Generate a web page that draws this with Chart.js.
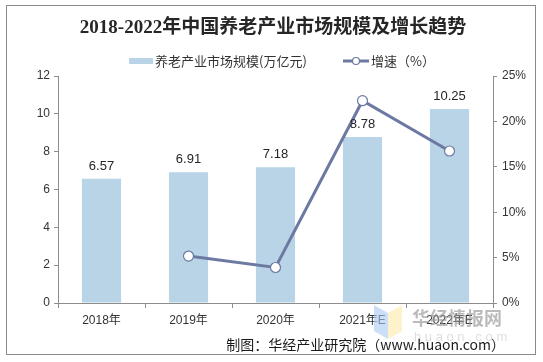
<!DOCTYPE html>
<html>
<head>
<meta charset="utf-8">
<script src="https://cdn.jsdelivr.net/npm/chart.js@4"></script>
<style>
  html, body { margin: 0; padding: 0; background: #fff; }
  #wrap { width: 543px; height: 362px; }
</style>
</head>
<body>
<div id="wrap"><canvas id="chart" width="543" height="362"></canvas></div>
<script>
// chart data
const years = ['2018年', '2019年', '2020年', '2021年E', '2022年E'];
const marketSize = [6.57, 6.91, 7.18, 8.78, 10.25];
const growthRate = [null, 5.17, 3.91, 22.28, 16.74];

const titleText = '2018-2022年中国养老产业市场规模及增长趋势';
const barLabel = '养老产业市场规模(万亿元)';
const lineLabel = '增速（%）';
const sourceText = '制图：华经产业研究院（www.huaon.com）';

const barColor = '#b8d4e6';
const lineColor = '#6c79a2';
const axisColor = '#8c8c8c';
const textColor = '#333';
const cjkSans = '"Noto Sans CJK SC", "Liberation Sans", sans-serif';
const mixedSans = '"Liberation Sans", "Noto Sans CJK SC", sans-serif';

// draws frame, title, legend, value labels and footer
const decorPlugin = {
  id: 'decor',
  beforeDraw(chart) {
    const ctx = chart.ctx;
    ctx.save();
    ctx.fillStyle = '#fff';
    ctx.fillRect(0, 0, chart.width, chart.height);
    ctx.restore();
  },
  afterDraw(chart) {
    const ctx = chart.ctx;
    ctx.save();

    // outer frame
    ctx.strokeStyle = '#8a8a8a';
    ctx.lineWidth = 1;
    ctx.strokeRect(6.5, 5.5, 529, 349);

    // title
    ctx.fillStyle = '#262626';
    ctx.font = 'bold 19px "Liberation Serif", "Noto Sans CJK SC", serif';
    ctx.textAlign = 'center';
    ctx.textBaseline = 'middle';
    ctx.fillText(titleText, 273, 28);

    // legend
    ctx.font = '13px ' + cjkSans;
    ctx.textAlign = 'left';
    ctx.fillStyle = barColor;
    ctx.fillRect(129, 58, 24, 6);
    ctx.fillStyle = textColor;
    ctx.fillText(barLabel, 155, 61);
    ctx.strokeStyle = lineColor;
    ctx.lineWidth = 3;
    ctx.beginPath();
    ctx.moveTo(343, 61);
    ctx.lineTo(369, 61);
    ctx.stroke();
    ctx.fillStyle = '#fff';
    ctx.lineWidth = 1.2;
    ctx.beginPath();
    ctx.arc(356, 61, 3.5, 0, Math.PI * 2);
    ctx.fill();
    ctx.stroke();
    ctx.fillStyle = textColor;
    ctx.fillText(lineLabel, 371, 61);

    // bar value labels
    const meta = chart.getDatasetMeta(1);
    ctx.font = '13px "Liberation Sans", Arial, sans-serif';
    ctx.textAlign = 'center';
    ctx.textBaseline = 'bottom';
    ctx.fillStyle = '#262626';
    meta.data.forEach((bar, i) => {
      ctx.fillText(marketSize[i].toFixed(2), bar.x, bar.y - 6);
    });

    // watermark (semi-transparent, over the axis labels)
    ctx.globalAlpha = 0.6;
    ctx.fillStyle = '#a9c9f5';
    ctx.beginPath();
    ctx.moveTo(374, 305); ctx.lineTo(388, 313); ctx.lineTo(388, 339); ctx.lineTo(374, 331);
    ctx.closePath(); ctx.fill();
    ctx.fillStyle = '#fbe9a6';
    ctx.beginPath();
    ctx.moveTo(388, 313); ctx.lineTo(402, 305); ctx.lineTo(402, 331); ctx.lineTo(388, 339);
    ctx.closePath(); ctx.fill();
    ctx.globalAlpha = 1;
    ctx.fillStyle = 'rgba(150,150,150,0.65)';
    ctx.font = 'bold 18px ' + cjkSans;
    ctx.textAlign = 'left';
    ctx.textBaseline = 'middle';
    ctx.fillText('华经情报网', 412, 318);
    ctx.fillStyle = 'rgba(200,200,200,0.6)';
    ctx.font = '13px "Liberation Sans", sans-serif';
    ctx.fillText('h u a o n . c o m', 414, 337);

    // footer
    ctx.fillStyle = '#1a1a1a';
    ctx.font = '14px ' + cjkSans;
    ctx.textAlign = 'right';
    ctx.fillText(sourceText, 505, 345);

    ctx.restore();
  }
};

new Chart(document.getElementById('chart'), {
  data: {
    labels: years,
    datasets: [
      {
        type: 'line',
        label: lineLabel,
        data: growthRate,
        yAxisID: 'y1',
        borderColor: lineColor,
        borderWidth: 3,
        pointRadius: 5,
        pointBackgroundColor: '#fff',
        pointBorderColor: lineColor,
        pointBorderWidth: 1.2,
        tension: 0,
        order: 0
      },
      {
        type: 'bar',
        label: barLabel,
        data: marketSize,
        yAxisID: 'y',
        backgroundColor: barColor,
        barPercentage: 0.45,
        categoryPercentage: 1,
        order: 1
      }
    ]
  },
  options: {
    responsive: false,
    animation: false,
    events: [],
    layout: { padding: { top: 76, bottom: 29, left: 0, right: 0 } },
    plugins: {
      legend: { display: false },
      title: { display: false },
      tooltip: { enabled: false }
    },
    scales: {
      x: {
        offset: true,
        grid: { drawOnChartArea: false, color: axisColor, tickLength: 5, offset: true },
        border: { color: axisColor },
        ticks: { color: textColor, font: { size: 12, family: mixedSans }, padding: 5 },
        afterFit(scale) { scale.height = 30; }
      },
      y: {
        position: 'left',
        min: 0, max: 12,
        ticks: { stepSize: 2, color: textColor, font: { size: 12, family: 'Liberation Sans' }, padding: 4 },
        grid: { drawOnChartArea: false, color: axisColor, tickLength: 4 },
        border: { color: axisColor },
        afterFit(scale) { scale.width = 58; }
      },
      y1: {
        position: 'right',
        min: 0, max: 25,
        ticks: {
          stepSize: 5, color: textColor, font: { size: 12, family: 'Liberation Sans' }, padding: 5,
          callback: v => v + '%'
        },
        grid: { drawOnChartArea: false, color: axisColor, tickLength: 4 },
        border: { color: axisColor },
        afterFit(scale) { scale.width = 50; }
      }
    }
  },
  plugins: [decorPlugin]
});
</script>
</body>
</html>
